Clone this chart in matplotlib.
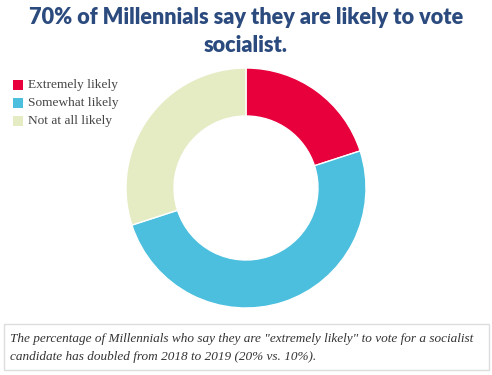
import matplotlib.pyplot as plt
from matplotlib.patches import Rectangle

labels = ['Extremely likely', 'Somewhat likely', 'Not at all likely']
values = [20, 50, 30]
colors = ['#E8003D', '#4BBFDD', '#E5EBC3']

fig = plt.figure(figsize=(4.92, 3.75), dpi=100)
W, H = 492, 375

# donut axes: centre (246,188) px, radius 120 px
cx, cy, r = 246, 188, 120
ax = fig.add_axes([(cx - r) / W, (H - cy - r) / H, 2 * r / W, 2 * r / H])
ax.pie(values, colors=colors, startangle=90, counterclock=False, radius=1,
       wedgeprops=dict(width=0.4, edgecolor='white', linewidth=1))
ax.set_xlim(-1, 1)
ax.set_ylim(-1, 1)
ax.set_aspect('equal')
ax.axis('off')

fig.text(0.5, 1 - 17 / H, '70% of Millennials say they are likely to vote',
         ha='center', va='center', fontsize=15.6, fontweight='heavy',
         family='Lato', color='#2B4A7E')
fig.text(0.5, 1 - 45 / H, 'socialist.',
         ha='center', va='center', fontsize=15.6, fontweight='heavy',
         family='Lato', color='#2B4A7E')

# legend
for i, (lab, col) in enumerate(zip(labels, colors)):
    y = 85 + i * 18
    fig.patches.append(Rectangle((13 / W, 1 - (y + 5) / H), 10 / W, 10 / H,
                                 transform=fig.transFigure, facecolor=col,
                                 edgecolor='none'))
    fig.text(28 / W, 1 - y / H, lab, ha='left', va='center', fontsize=9.6,
             family='Liberation Serif', color='#444444')

# caption box
fig.patches.append(Rectangle((4 / W, 1 - 370 / H), 485 / W, 46 / H,
                             transform=fig.transFigure, facecolor='white',
                             edgecolor='#DDDDDD', linewidth=1))
fig.text(10 / W, 1 - 339 / H,
         'The percentage of Millennials who say they are "extremely likely" to vote for a socialist',
         ha='left', va='center', fontsize=9.5, style='italic',
         family='Liberation Serif', color='#333333')
fig.text(10 / W, 1 - 357 / H,
         'candidate has doubled from 2018 to 2019 (20% vs. 10%).',
         ha='left', va='center', fontsize=9.5, style='italic',
         family='Liberation Serif', color='#333333')

fig.savefig('out.png', dpi=100)
